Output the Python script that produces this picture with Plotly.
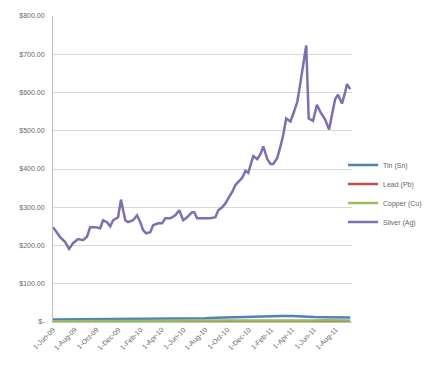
import plotly.graph_objects as go

# Silver (Ag) traced points
silver_dates = ["2009-06-01","2009-06-21","2009-07-05","2009-07-16","2009-07-27","2009-08-10","2009-08-24",
    "2009-09-04","2009-09-13","2009-09-27","2009-10-11","2009-10-19","2009-10-30","2009-11-08","2009-11-16",
    "2009-11-30","2009-12-08","2009-12-14","2009-12-20","2009-12-28","2010-01-11","2010-01-22","2010-01-31",
    "2010-02-08","2010-02-16","2010-02-28","2010-03-08","2010-03-22","2010-04-02","2010-04-11","2010-04-25",
    "2010-05-09","2010-05-20","2010-05-31","2010-06-11","2010-06-25","2010-07-01","2010-07-09","2010-07-26",
    "2010-08-15","2010-08-29","2010-09-06","2010-09-17","2010-09-26","2010-10-04","2010-10-15","2010-10-24",
    "2010-11-01","2010-11-12","2010-11-21","2010-11-29","2010-12-13","2010-12-24","2011-01-02","2011-01-10",
    "2011-01-21","2011-01-30","2011-02-07","2011-02-18","2011-02-27","2011-03-07","2011-03-15","2011-03-27",
    "2011-04-04","2011-04-15","2011-04-24","2011-05-02","2011-05-10","2011-05-17","2011-05-22","2011-05-29",
    "2011-06-09","2011-06-18","2011-07-02","2011-07-13","2011-07-21","2011-07-30","2011-08-07","2011-08-18",
    "2011-08-27","2011-09-01","2011-09-10"]
silver = [248,222,209,191,206,217,214,
    223,248,248,245,266,261,250,266,
    274,320,297,266,261,266,279,261,
    240,232,235,253,258,258,271,271,
    279,292,266,274,287,287,271,271,
    271,274,292,300,310,323,340,358,
    366,377,395,390,434,426,439,459,
    426,413,413,429,459,490,532,524,
    545,575,627,670,723,532,529,526,
    568,550,529,503,542,583,594,571,
    601,622,609]

# Base metals (monthly)
base_dates = ["2009-06-01","2009-07-01","2009-08-01","2009-09-01","2009-10-01","2009-11-01","2009-12-01",
    "2010-01-01","2010-02-01","2010-03-01","2010-04-01","2010-05-01","2010-06-01","2010-07-01","2010-08-01",
    "2010-09-01","2010-10-01","2010-11-01","2010-12-01","2011-01-01","2011-02-01","2011-03-01","2011-04-01",
    "2011-05-01","2011-06-01","2011-07-01","2011-08-01","2011-09-10"]
tin = [6.5,6.8,7.0,6.8,7.2,7.5,7.8,8.0,8.2,8.5,8.0,7.8,8.3,9.0,10.0,11.0,12.0,12.5,12.8,13.2,14.5,15.5,16.0,14.0,12.8,12.5,13.0,12.0]
copper = [2.2,2.4,2.8,2.8,2.9,3.0,3.2,3.3,3.1,3.4,3.5,3.0,3.0,3.3,3.4,3.6,3.9,4.0,4.3,4.5,4.3,4.3,4.1,4.1,4.2,4.3,4.0,4.0]
lead = [0.7,0.8,0.9,1.0,1.0,1.0,1.1,1.0,0.95,1.0,1.0,0.8,0.8,0.9,0.95,1.0,1.1,1.1,1.2,1.15,1.2,1.2,1.15,1.15,1.2,1.15,1.1,1.05]

x_tick_dates = ["2009-06-01","2009-08-01","2009-10-01","2009-12-01","2010-02-01","2010-04-01","2010-06-01",
    "2010-08-01","2010-10-01","2010-12-01","2011-02-01","2011-04-01","2011-06-01","2011-08-01"]
x_tick_labels = ["1-Jun-09","1-Aug-09","1-Oct-09","1-Dec-09","1-Feb-10","1-Apr-10","1-Jun-10",
    "1-Aug-10","1-Oct-10","1-Dec-10","1-Feb-11","1-Apr-11","1-Jun-11","1-Aug-11"]
y_tick_vals = [0,100,200,300,400,500,600,700,800]
y_tick_labels = ["$-","$100.00","$200.00","$300.00","$400.00","$500.00","$600.00","$700.00","$800.00"]

fig = go.Figure()
fig.add_trace(go.Scatter(x=base_dates, y=tin, name="Tin (Sn)", mode="lines",
                         line=dict(color="#4F81BD", width=2.5)))
fig.add_trace(go.Scatter(x=base_dates, y=lead, name="Lead (Pb)", mode="lines",
                         line=dict(color="#C0504D", width=2.5)))
fig.add_trace(go.Scatter(x=base_dates, y=copper, name="Copper (Cu)", mode="lines",
                         line=dict(color="#9BBB59", width=2.5)))
fig.add_trace(go.Scatter(x=silver_dates, y=silver, name="Silver (Ag)", mode="lines",
                         line=dict(color="#7F6FB0", width=2.5)))

tickfont = dict(family="Liberation Sans, Arial, sans-serif", size=7, color="#666666")
fig.update_layout(
    width=439, height=378,
    margin=dict(l=53, r=87, t=13, b=56),
    paper_bgcolor="white", plot_bgcolor="white",
    showlegend=True,
    legend=dict(x=0.97, y=0.42, xanchor="left", yanchor="middle",
                font=dict(family="Liberation Sans, Arial, sans-serif", size=7, color="#666666"),
                bgcolor="rgba(255,255,255,0)", tracegroupgap=0, itemwidth=30),
    xaxis=dict(type="date", range=["2009-06-01", "2011-09-15"],
               tickvals=x_tick_dates, ticktext=x_tick_labels, tickangle=-45,
               tickfont=tickfont, showgrid=False, showline=True, linecolor="#bfbfbf",
               ticks="", zeroline=False),
    yaxis=dict(range=[0, 800], tickvals=y_tick_vals, ticktext=y_tick_labels,
               tickfont=tickfont, showgrid=True, gridcolor="#d9d9d9", gridwidth=1,
               showline=True, linecolor="#bfbfbf", ticks="", zeroline=False,
               ticklabelstandoff=6),
)
fig.write_html("out.html")
